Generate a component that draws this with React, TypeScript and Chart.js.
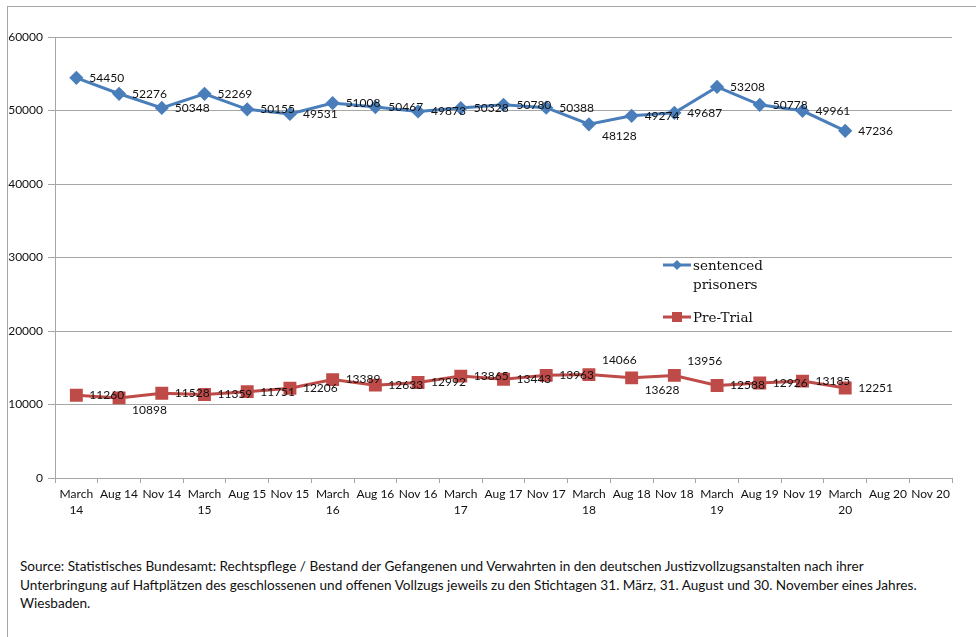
import React, { useEffect, useRef } from "react";
import { Chart, registerables } from "chart.js";

Chart.register(...registerables);

const categories: string[][] = [
  ["March", "14"], ["Aug 14"], ["Nov 14"],
  ["March", "15"], ["Aug 15"], ["Nov 15"],
  ["March", "16"], ["Aug 16"], ["Nov 16"],
  ["March", "17"], ["Aug 17"], ["Nov 17"],
  ["March", "18"], ["Aug 18"], ["Nov 18"],
  ["March", "19"], ["Aug 19"], ["Nov 19"],
  ["March", "20"], ["Aug 20"], ["Nov 20"],
];

const sentencedValues: number[] = [
  54450, 52276, 50348, 52269, 50155, 49531, 51008, 50467, 49873, 50328,
  50780, 50388, 48128, 49274, 49687, 53208, 50778, 49961, 47236,
];

const preTrialValues: number[] = [
  11260, 10898, 11528, 11359, 11751, 12206, 13389, 12633, 12992, 13865,
  13443, 13963, 14066, 13628, 13956, 12588, 12926, 13185, 12251,
];

const yTicks: number[] = [0, 10000, 20000, 30000, 40000, 50000, 60000];

// label placement: r = right, b = right-below, a = right-above
const sentencedLabelPlacement: string[] = [
  "r", "r", "r", "r", "r", "r", "r", "r", "r", "r",
  "r", "r", "b", "r", "r", "r", "r", "r", "r",
];
const preTrialLabelPlacement: string[] = [
  "r", "b", "r", "r", "r", "r", "r", "r", "r", "r",
  "r", "r", "a", "b", "a", "r", "r", "r", "r",
];

const legendLines: string[][] = [["sentenced", "prisoners"], ["Pre-Trial"]];

const BLUE = "#4A7EBB";
const RED = "#BE4B48";
const GRID = "#a6a6a6";
const FONT = "Lato";

const dataLabelPlugin = {
  id: "dataLabels",
  afterDatasetsDraw(chart: any) {
    const ctx = chart.ctx;
    const placements = [sentencedLabelPlacement, preTrialLabelPlacement];
    ctx.save();
    ctx.font = `12px ${FONT}`;
    ctx.fillStyle = "#111";
    ctx.textAlign = "left";
    ctx.textBaseline = "middle";
    chart.data.datasets.forEach((ds: any, di: number) => {
      const meta = chart.getDatasetMeta(di);
      meta.data.forEach((el: any, i: number) => {
        const v = ds.data[i];
        if (v == null) return;
        const p = placements[di][i];
        const dy = p === "b" ? 12 : p === "a" ? -14 : 0;
        ctx.fillText(String(v), el.x + 13, el.y + dy);
      });
    });
    ctx.restore();
  },
};

const innerLegendPlugin = {
  id: "innerLegend",
  afterDraw(chart: any) {
    const ctx = chart.ctx;
    const x0 = 663;
    const ys = [265, 317];
    ctx.save();
    chart.data.datasets.forEach((ds: any, di: number) => {
      const y = ys[di];
      ctx.strokeStyle = ds.borderColor;
      ctx.lineWidth = 3;
      ctx.beginPath();
      ctx.moveTo(x0, y);
      ctx.lineTo(x0 + 28, y);
      ctx.stroke();
      ctx.fillStyle = ds.backgroundColor;
      const cx = x0 + 14;
      ctx.beginPath();
      if (ds.pointStyle === "rectRot") {
        ctx.moveTo(cx, y - 5);
        ctx.lineTo(cx + 5, y);
        ctx.lineTo(cx, y + 5);
        ctx.lineTo(cx - 5, y);
        ctx.closePath();
      } else {
        ctx.rect(cx - 5, y - 5, 10, 10);
      }
      ctx.fill();
      ctx.fillStyle = "#111";
      ctx.font = `13.5px "DejaVu Serif"`;
      ctx.textAlign = "left";
      ctx.textBaseline = "middle";
      legendLines[di].forEach((line, li) => {
        ctx.fillText(line, x0 + 30, y + 1 + li * 19);
      });
    });
    ctx.restore();
  },
};

export default function App() {
  const canvasRef = useRef<HTMLCanvasElement | null>(null);

  useEffect(() => {
    if (!canvasRef.current) return;
    const chart = new Chart(canvasRef.current, {
      type: "line",
      data: {
        labels: categories,
        datasets: [
          {
            label: "sentenced prisoners",
            data: sentencedValues,
            borderColor: BLUE,
            backgroundColor: BLUE,
            borderWidth: 3,
            pointStyle: "rectRot",
            pointRadius: 5,
            pointHoverRadius: 5,
            tension: 0,
          },
          {
            label: "Pre-Trial",
            data: preTrialValues,
            borderColor: RED,
            backgroundColor: RED,
            borderWidth: 3,
            pointStyle: "rect",
            pointRadius: 7,
            pointHoverRadius: 7,
            tension: 0,
          },
        ],
      },
      options: {
        responsive: false,
        animation: false,
        layout: { padding: { top: 37, right: 24, left: 0, bottom: 0 } },
        plugins: {
          legend: { display: false },
          tooltip: { enabled: false },
          title: { display: false },
        },
        scales: {
          x: {
            type: "category",
            offset: true,
            grid: {
              display: true,
              offset: true,
              drawOnChartArea: false,
              drawTicks: true,
              tickLength: 5,
              color: GRID,
            },
            border: { display: true, color: GRID, width: 1 },
            ticks: {
              color: "#111",
              font: { family: FONT, size: 12, lineHeight: 1.35 },
              padding: 3,
              maxRotation: 0,
              autoSkip: false,
            },
            afterFit(scale: any) {
              scale.height = 52;
            },
          },
          y: {
            min: 0,
            max: 60000,
            afterBuildTicks(scale: any) {
              scale.ticks = yTicks.map((v) => ({ value: v }));
            },
            grid: {
              color: GRID,
              drawTicks: true,
              tickLength: 7,
            },
            border: { display: true, color: GRID, width: 1 },
            ticks: {
              color: "#111",
              font: { family: FONT, size: 12 },
              padding: 5,
              callback: (v: any) => String(v),
            },
            afterFit(scale: any) {
              scale.width = 55;
            },
          },
        },
      },
      plugins: [dataLabelPlugin, innerLegendPlugin],
    } as any);
    return () => chart.destroy();
  }, []);

  return (
    <div
      style={{
        position: "fixed",
        left: 0,
        top: 0,
        width: 976,
        height: 637,
        background: "#fff",
        overflow: "hidden",
      }}
    >
      <div
        style={{
          position: "absolute",
          left: 7,
          top: 6,
          width: 1000,
          height: 700,
          borderLeft: `1px solid ${GRID}`,
          borderTop: `1px solid ${GRID}`,
        }}
      />
      <canvas
        ref={canvasRef}
        width={976}
        height={530}
        style={{ position: "absolute", left: 0, top: 0, display: "block" }}
      />
      <div
        style={{
          position: "absolute",
          left: 20,
          top: 557,
          fontFamily: FONT,
          fontSize: 13.6,
          lineHeight: "18.5px",
          color: "#111",
          whiteSpace: "nowrap",
        }}
      >
        Source: Statistisches Bundesamt: Rechtspflege / Bestand der Gefangenen und Verwahrten in den deutschen Justizvollzugsanstalten nach ihrer
        <br />
        Unterbringung auf Haftplätzen des geschlossenen und offenen Vollzugs jeweils zu den Stichtagen 31. März, 31. August und 30. November eines Jahres.
        <br />
        Wiesbaden.
      </div>
    </div>
  );
}
